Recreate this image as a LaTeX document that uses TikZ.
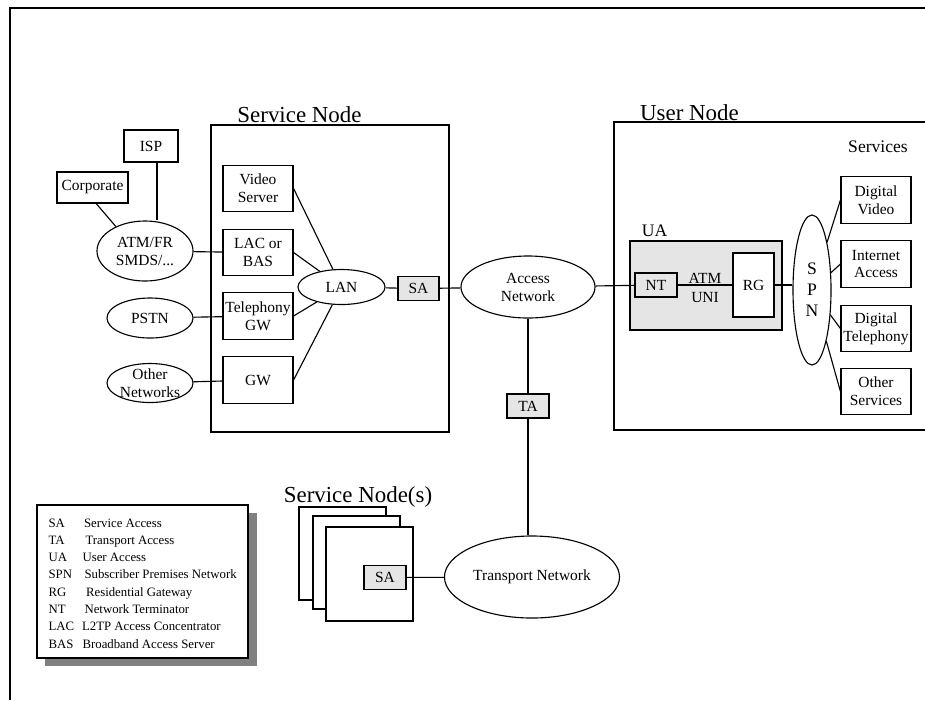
\documentclass[tikz,border=0pt]{standalone}
\usepackage{fontspec}
\setmainfont{Liberation Serif}
\usetikzlibrary{shapes.geometric}

\tikzset{
  box/.style={draw, fill=white, minimum width=1.75cm, minimum height=1.16cm,
    inner sep=1pt, align=center, font=\fontsize{11}{12.8}\selectfont},
  acc/.style={draw, fill=gray!20, minimum width=1.05cm, minimum height=0.6cm,
    inner sep=1pt, font=\fontsize{11}{12.8}\selectfont},
  net/.style={draw, ellipse, inner sep=0pt, align=center,
    font=\fontsize{11}{12.8}\selectfont},
  ttl/.style={anchor=base, inner sep=0pt, font=\fontsize{16.3}{19}\selectfont},
  lbl/.style={anchor=base, inner sep=0pt, font=\fontsize{12.5}{15}\selectfont},
  key/.style={anchor=base west, inner sep=0pt, font=\fontsize{9.1}{11}\selectfont},
}

\begin{document}
\begin{tikzpicture}[x=0.025cm, y=-0.025cm, line width=0.8pt]
\useasboundingbox (0,0) rectangle (925,700);
\clip (0,0) rectangle (925,700);
% frame, open to the right and below
\draw[line width=1.5pt] (10,700) -- (10,7.7) -- (925,7.7);

% service node
\draw (211,125) rectangle (449,432);
\node[ttl] (sntitle) at (299.5,122) {Service Node};
\node[box] (vs) at (258,188.5) {Video\\Server};
\node[box] (lac) at (258,252.5) {LAC or\\BAS};
\node[box] (tgw) at (258,316) {Telephony\\GW};
\node[box] (gw) at (258,380) {GW};
\node[net, minimum width=2.175cm, minimum height=0.875cm] (lan) at (341.5,287) {LAN};
\node[acc, minimum width=1.025cm] (sa) at (418.5,288.5) {SA};

% outside networks
\node[box, minimum width=1.35cm, minimum height=0.8cm] (isp) at (151,146) {ISP};
\node[box, minimum width=1.775cm, minimum height=0.775cm] (corp) at (92.5,187.5) {Corporate};
\node[net, minimum width=2.4cm, minimum height=1.5cm] (atm) at (145,251) {ATM/FR\\SMDS/...};
\node[net, minimum width=2.15cm, minimum height=1cm] (pstn) at (150,318) {PSTN};
\node[net, minimum width=2.15cm, minimum height=0.975cm, inner ysep=-4pt] (other) at (150,383) {Other\\Networks};

% access and transport
\node[net, minimum width=3.35cm, minimum height=1.55cm] (an) at (528,287) {Access\\Network};
\node[acc] (ta) at (528,406) {TA};
\node[net, minimum width=4.375cm, minimum height=2.05cm] (tn) at (532,577) {Transport Network};

% user node
\draw (614,122) rectangle (960,430);
\node[ttl] (untitle) at (689.5,120) {User Node};
\node[lbl] (srvtitle) at (878,152) {Services};
\node[lbl] (uatitle) at (654.5,236) {UA};
\draw[fill=gray!20] (630,241) rectangle (782,330);
\node[acc] (nt) at (656,285) {NT};
\node[draw, fill=white, minimum width=1.025cm, minimum height=1.6cm,
  font=\fontsize{11}{12.8}\selectfont] (rg) at (753.5,285) {RG};
\node[align=center, inner sep=0pt, font=\fontsize{11}{13.2}\selectfont] (uni) at (705,288) {ATM\\UNI};
\node[net, minimum width=0.95cm, minimum height=3.75cm,
  font=\fontsize{12.5}{15}\selectfont] (spn) at (812,290) {S\\P\\N};
\node[box] (dv) at (876,200) {Digital\\Video};
\node[box] (ia) at (876,264) {Internet\\Access};
\node[box] (dt) at (876,328.5) {Digital\\Telephony};
\node[box] (os) at (876,391.5) {Other\\Services};

% stacked service nodes
\node[ttl] (sstitle) at (358,502) {Service Node(s)};
\draw[fill=white] (299,507) rectangle (386,600);
\draw[fill=white] (313,516) rectangle (400,609);
\draw[fill=white] (326,527) rectangle (413,621);
\node[acc] (sa2) at (385,577.5) {SA};

% links
\draw (corp.283) -- (atm.140);
\draw (isp.290) -- (isp.290 |- atm.north);
\draw (atm) -- (lac);
\draw (pstn) -- (tgw);
\draw (other) -- (gw);
\draw (vs.east) -- (lan);
\draw (lac.east) -- (lan);
\draw (tgw.east) -- (lan);
\draw (gw.east) -- (lan);
\draw (lan) -- (sa);
\draw (sa) -- (an);
\draw (an) -- (nt);
\draw (nt) -- (rg);
\draw (rg.east) -- (rg.east -| spn.west);
\draw (spn) -- (dv.west);
\draw (spn) -- (ia.west);
\draw (spn) -- (dt.west);
\draw (spn) -- (os.west);
\draw (an) -- (ta);
\draw (ta.south) -- (ta.south |- tn.north);
\draw (sa2) -- (tn);

% legend
\fill[gray] (45,513) rectangle (257,666);
\draw[fill=white] (37,505) rectangle (248,658);
\node[key] (k1) at (48,527) {SA};
\node[key] (d1) at (83.5,527) {Service Access};
\node[key] (k2) at (48,544.3) {TA};
\node[key] (d2) at (85,544.3) {Transport Access};
\node[key] (k3) at (48,561.6) {UA};
\node[key] (d3) at (82,561.6) {User Access};
\node[key] (k4) at (48,578.9) {SPN};
\node[key] (d4) at (84,578.9) {Subscriber Premises Network};
\node[key] (k5) at (48,596.2) {RG};
\node[key] (d5) at (85.5,596.2) {Residential Gateway};
\node[key] (k6) at (48,613.5) {NT};
\node[key] (d6) at (84,613.5) {Network Terminator};
\node[key] (k7) at (48,630.8) {LAC};
\node[key] (d7) at (81.5,630.8) {L2TP Access Concentrator};
\node[key] (k8) at (48,648.1) {BAS};
\node[key] (d8) at (82,648.1) {Broadband Access Server};
\end{tikzpicture}
\end{document}
